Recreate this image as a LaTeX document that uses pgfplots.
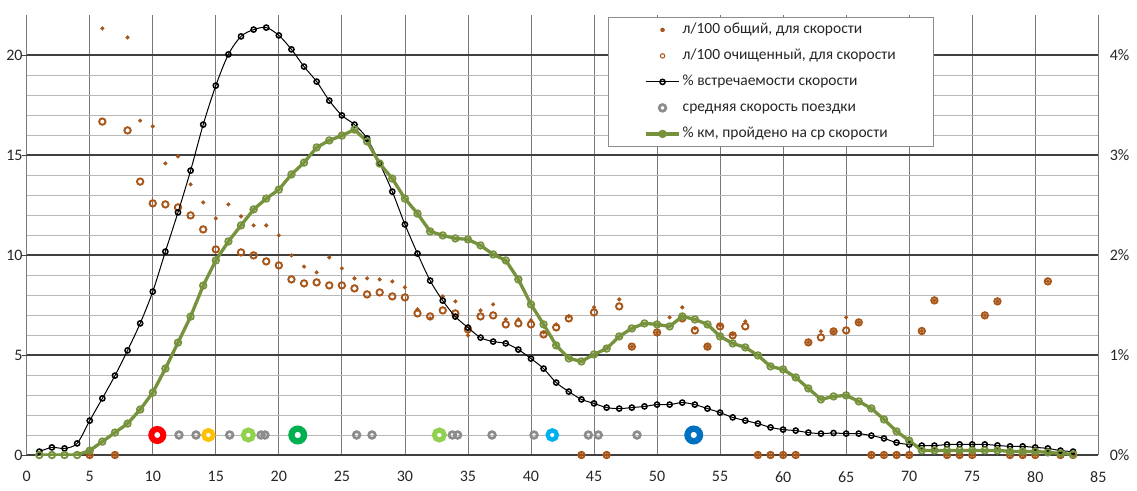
\documentclass[border=0pt]{standalone}
\usepackage{pgfplots}
\pgfplotsset{compat=1.18}
\usepackage{fontspec}
\setmainfont{Carlito}
\definecolor{brn}{HTML}{A85518}
\definecolor{olv}{HTML}{76923C}
\definecolor{gry}{HTML}{8C8C8C}
\definecolor{txt}{HTML}{262626}
\definecolor{cred}{HTML}{FF0000}
\definecolor{cyel}{HTML}{FFC000}
\definecolor{clgr}{HTML}{92D050}
\definecolor{cdgr}{HTML}{00B050}
\definecolor{clbl}{HTML}{00B0F0}
\definecolor{cdbl}{HTML}{0070C0}
\begin{document}
\begin{tikzpicture}
\path[use as bounding box] (0,0) rectangle (1137pt,490pt);
\pgfplotsset{
  every axis/.append style={
    scale only axis, width=1071.6pt, height=440pt,
    at={(26.7pt,35pt)}, anchor=south west,
    xmin=0, xmax=85,
    /pgf/number format/assume math mode=true,
    tick label style={font=\fontsize{16}{18}\selectfont, text=txt},
  },
}
\begin{axis}[
  ymin=0, ymax=22,
  xtick={0,5,...,85},
  ytick={0,5,...,20},
  minor y tick num=4,
  xmajorgrids, ymajorgrids, yminorgrids,
  x grid style={color=gray!95!black, line width=0.8pt},
  y grid style={color=black!75, line width=1.1pt},
  minor y grid style={color=black!28, line width=0.8pt},
  axis line style={draw=none},
  xtick style={draw=none},
  ytick style={draw=black!75, line width=0.8pt},
  minor y tick style={draw=none},
  tick align=outside, major tick length=5pt,
  axis y line*=left, axis x line*=bottom,
  x tick label style={yshift=-8pt},
  y tick label style={xshift=3pt, inner xsep=2pt},
  clip=false,
]
% l/100 total (dots)
\addplot[only marks, mark=*, mark size=1.9pt, color=brn, mark options={fill=brn, draw=brn, line width=0.4pt}] coordinates {
(5,0)(6,21.33)(7,0)(8,20.88)(9,16.72)(10,16.43)(11,14.58)(12,14.93)(13,13.53)(14,12.63)
(15,11.83)(16,12.53)(17,11.93)(18,11.48)(19,11.48)(20,10.98)(21,9.98)(22,9.42)(23,9.13)(24,9.88)
(25,9.33)(26,8.83)(27,8.83)(28,8.78)(29,8.68)(30,8.38)(31,7.28)(32,6.83)(33,7.93)(34,7.68)
(35,5.98)(36,7.23)(37,7.53)(38,6.78)(39,6.78)(40,6.73)(41,6.13)(42,6.53)(43,6.93)(44,0)
(45,7.38)(46,0)(47,7.78)(48,5.42)(50,6.13)(51,6.88)(52,7.38)(53,6.33)(54,5.42)(55,6.47)
(56,6.03)(57,6.68)(58,0)(59,0)(60,0)(61,0)(62,5.63)(63,6.18)(64,6.18)(65,6.88)(66,6.63)
(67,0)(68,0)(69,0)(70,0)(71,6.2)(72,7.73)(73,0)(74,0)(75,0)(76,6.98)(77,7.68)
(78,0)(79,0)(80,0)(81,8.68)(82,0)(83,0)};
% l/100 cleaned (circles)
\addplot[only marks, mark=o, mark size=3.2pt, color=brn, mark options={line width=1.9pt}] coordinates {
(5,0)(6,16.67)(7,0)(8,16.23)(9,13.67)(10,12.58)(11,12.53)(12,12.38)(13,11.98)(14,11.28)
(15,10.28)(17,10.13)(18,9.98)(19,9.68)(20,9.48)(21,8.78)(22,8.58)(23,8.63)(24,8.48)
(25,8.48)(26,8.33)(27,8.03)(28,8.13)(29,7.93)(30,7.88)(31,7.08)(32,6.93)(33,7.23)(34,7.08)
(35,6.28)(36,6.93)(37,6.98)(38,6.53)(39,6.58)(40,6.53)(41,6.03)(42,6.38)(43,6.83)(44,0)
(45,7.13)(46,0)(47,7.43)(48,5.42)(50,6.13)(52,6.83)(53,6.23)(54,5.42)(55,6.43)
(56,5.98)(57,6.43)(58,0)(59,0)(60,0)(61,0)(62,5.63)(63,5.88)(64,6.18)(65,6.23)(66,6.63)
(67,0)(68,0)(69,0)(70,0)(71,6.2)(72,7.73)(73,0)(74,0)(75,0)(76,6.98)(77,7.68)
(78,0)(79,0)(80,0)(81,8.68)(82,0)(83,0)};
% average trip speed
\addplot[only marks, mark=o, mark size=3.35pt, color=gry, mark options={line width=2.7pt, fill=white}] coordinates {
(12.08,1)(13.43,1)(16.1,1)(18.59,1)(18.9,1)(26.17,1)(27.39,1)(33.76,1)(34.18,1)(36.91,1)(40.24,1)(44.55,1)(45.34,1)(48.41,1)};
\addplot[only marks, mark=*, mark size=6pt, draw=cred, mark options={line width=6pt, fill=white}] coordinates {(10.36,1)};
\addplot[only marks, mark=*, mark size=4.75pt, draw=cyel, mark options={line width=4.5pt, fill=white}] coordinates {(14.41,1)};
\addplot[only marks, mark=*, mark size=5pt, draw=clgr, mark options={line width=5pt, fill=white}] coordinates {(17.58,1)(32.73,1)};
\addplot[only marks, mark=*, mark size=6.3pt, draw=cdgr, mark options={line width=6.3pt, fill=white}] coordinates {(21.5,1)};
\addplot[only marks, mark=*, mark size=4.6pt, draw=clbl, mark options={line width=4.4pt, fill=white}] coordinates {(41.69,1)};
\addplot[only marks, mark=*, mark size=6.3pt, draw=cdbl, mark options={line width=6.3pt, fill=white}] coordinates {(52.91,1)};
\end{axis}
\begin{axis}[
  ymin=0, ymax=4.4,
  hide x axis,
  axis y line*=right,
  axis line style={draw=none},
  ytick={0,1,2,3,4},
  yticklabel={\pgfmathprintnumber{\tick}\%},
  ytick style={draw=none},
  y tick label style={xshift=8pt},
  legend image code/.code={\draw[mark repeat=2,mark phase=2] plot coordinates {(0pt,0pt)(16.5pt,0pt)(33pt,0pt)};},
  legend cell align=left,
  legend style={at={(axis description cs:0.54246,0.99545)}, anchor=north west,
    draw=black!45, line width=0.8pt, fill=white,
    font=\fontsize{15.5}{18}\selectfont, text=txt,
    inner xsep=36pt, inner ysep=3pt, row sep=7pt,
    nodes={inner sep=2pt, text height=11pt, text depth=4pt}},
]
\addlegendimage{only marks, mark=*, mark size=2pt, color=brn, mark options={fill=brn, draw=brn, line width=0.4pt}}
\addlegendentry{л/100 общий, для скорости}
\addlegendimage{only marks, mark=o, mark size=2.2pt, color=brn, mark options={line width=1pt}}
\addlegendentry{л/100 очищенный, для скорости}
\addplot[smooth, color=black, line width=1pt, mark=o, mark size=2.6pt, mark options={line width=1.5pt, fill=white, solid}] coordinates {
(1,0.034)(2,0.076)(3,0.066)(4,0.116)(5,0.344)(6,0.566)(7,0.794)(8,1.046)(9,1.316)(10,1.634)
(11,2.034)(12,2.426)(13,2.844)(14,3.304)(15,3.694)(16,4.006)(17,4.186)(18,4.254)(19,4.274)(20,4.196)
(21,4.056)(22,3.884)(23,3.734)(24,3.544)(25,3.396)(26,3.304)(27,3.166)(28,2.916)(29,2.634)(30,2.306)
(31,2.014)(32,1.744)(33,1.544)(34,1.384)(35,1.274)(36,1.174)(37,1.134)(38,1.116)(39,1.054)(40,0.964)
(41,0.864)(42,0.724)(43,0.634)(44,0.556)(45,0.516)(46,0.474)(47,0.464)(48,0.474)(49,0.486)(50,0.504)
(51,0.504)(52,0.524)(53,0.504)(54,0.464)(55,0.424)(56,0.376)(57,0.344)(58,0.314)(59,0.276)(60,0.254)
(61,0.244)(62,0.224)(63,0.214)(64,0.22)(65,0.214)(66,0.214)(67,0.194)(68,0.166)(69,0.124)(70,0.104)
(71,0.094)(72,0.094)(73,0.104)(74,0.106)(75,0.106)(76,0.106)(77,0.096)(78,0.086)(79,0.086)(80,0.076)
(81,0.066)(82,0.044)(83,0.034)};
\addlegendentry{\% встречаемости скорости}
\addlegendimage{only marks, mark=o, mark size=3.35pt, color=gry, mark options={line width=2.7pt}}
\addlegendentry{средняя скорость поездки}
\addplot[color=olv, line width=3.3pt, line join=round, mark=o, mark size=3.3pt, mark options={line width=1.8pt, fill=white, solid}] coordinates {
(1,0)(2,0)(3,0)(4,0)(5,0.044)(6,0.134)(7,0.224)(8,0.314)(9,0.454)(10,0.624)
(11,0.864)(12,1.124)(13,1.384)(14,1.694)(15,1.946)(16,2.136)(17,2.296)(18,2.456)(19,2.564)(20,2.654)
(21,2.806)(22,2.924)(23,3.076)(24,3.146)(25,3.194)(26,3.254)(27,3.136)(28,2.914)(29,2.764)(30,2.564)
(31,2.414)(32,2.236)(33,2.196)(34,2.166)(35,2.156)(36,2.096)(37,2.006)(38,1.946)(39,1.756)(40,1.506)
(41,1.306)(42,1.096)(43,0.966)(44,0.936)(45,1.006)(46,1.064)(47,1.186)(48,1.266)(49,1.316)(50,1.306)
(51,1.286)(52,1.386)(53,1.356)(54,1.306)(55,1.186)(56,1.116)(57,1.076)(58,0.996)(59,0.886)(60,0.856)
(61,0.776)(62,0.666)(63,0.556)(64,0.586)(65,0.596)(66,0.536)(67,0.466)(68,0.356)(69,0.236)(70,0.144)
(71,0.046)(72,0.046)(73,0.046)(74,0.046)(75,0.046)(76,0.046)(77,0.046)(78,0.036)(79,0.036)(80,0.036)
(81,0.026)(82,0.016)(83,0.006)};
\addlegendentry{\% км, пройдено на ср скорости}
\end{axis}
\end{tikzpicture}
\end{document}
